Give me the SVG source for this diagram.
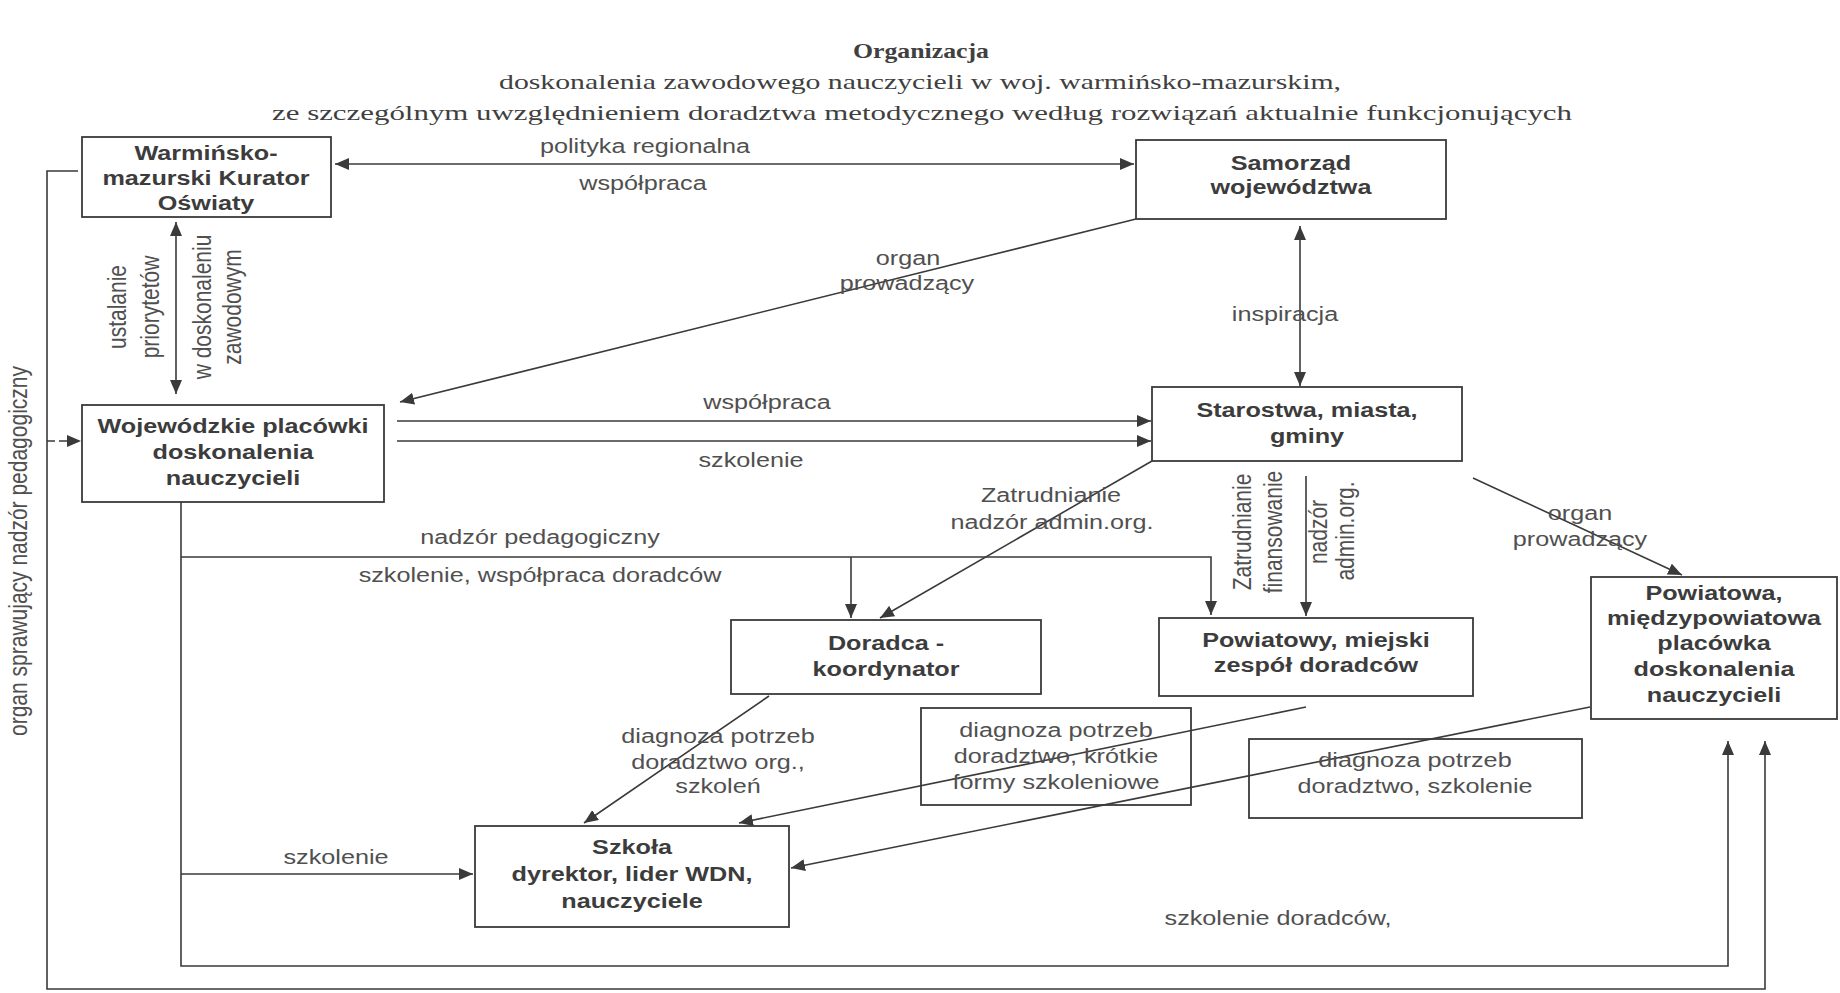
<svg xmlns="http://www.w3.org/2000/svg" width="1840" height="993" viewBox="0 0 1840 993">
<style>
.bg{fill:#ffffff}
.box{fill:#ffffff;stroke:#3a3a3a;stroke-width:1.8}
.ln{fill:none;stroke:#3a3a3a;stroke-width:1.6}
.arr{marker-end:url(#ah)}
.arr2{marker-start:url(#ah);marker-end:url(#ah)}
.nt{font-family:"Liberation Sans",Arial,sans-serif;font-size:21px;font-weight:bold;fill:#3c3c3c;text-anchor:middle}
.lb{font-family:"Liberation Sans",Arial,sans-serif;font-size:21px;fill:#505050;text-anchor:middle}
.tt{font-family:"Liberation Serif","Times New Roman",serif;font-size:22px;fill:#404040;text-anchor:middle}
</style>
<defs>
<marker id="ah" markerUnits="userSpaceOnUse" markerWidth="16" markerHeight="12" refX="14" refY="6" orient="auto-start-reverse" viewBox="0 0 16 12">
<path d="M0,0 L14,6 L0,12 z" fill="#3a3a3a"/>
</marker>
</defs>
<rect class="bg" x="0" y="0" width="1840" height="993"/>

<g id="title">
<text class="tt" x="921" y="58" textLength="136" lengthAdjust="spacingAndGlyphs" font-weight="bold">Organizacja</text>
<text class="tt" x="920" y="89" textLength="842" lengthAdjust="spacingAndGlyphs">doskonalenia zawodowego nauczycieli w woj. warmińsko-mazurskim,</text>
<text class="tt" x="922" y="120" textLength="1300" lengthAdjust="spacingAndGlyphs">ze szczególnym uwzględnieniem doradztwa metodycznego według rozwiązań aktualnie funkcjonujących</text>
</g>

<g id="connectors">
<!-- Kurator <-> Samorzad -->
<line class="ln arr2" x1="335" y1="164" x2="1134" y2="164"/>
<text class="lb" transform="translate(645,153) scale(1.2,1)">polityka regionalna</text>
<text class="lb" transform="translate(643,190) scale(1.2,1)">współpraca</text>
<!-- Kurator <-> Wojewodzkie -->
<line class="ln arr2" x1="176" y1="222" x2="176" y2="394"/>
<text class="lb" transform="translate(126,307) scale(1.2,1) rotate(-90)">ustalanie</text>
<text class="lb" transform="translate(159,307) scale(1.2,1) rotate(-90)">priorytetów</text>
<text class="lb" transform="translate(211,307) scale(1.2,1) rotate(-90)">w doskonaleniu</text>
<text class="lb" transform="translate(241,307) scale(1.2,1) rotate(-90)">zawodowym</text>
<!-- organ sprawujacy nadzor -->
<polyline class="ln arr" points="78,171 47,171 47,989 1765,989 1765,741"/>
<line class="ln arr" x1="47" y1="441" x2="81" y2="441" stroke-dasharray="8,4"/>
<text class="lb" transform="translate(27,551) scale(1.2,1) rotate(-90)">organ sprawujący nadzór pedagogiczny</text>
<!-- Samorzad -> Wojewodzkie -->
<line class="ln arr" x1="1136" y1="219" x2="400" y2="402"/>
<text class="lb" transform="translate(908,265) scale(1.2,1)">organ</text>
<text class="lb" transform="translate(907,290) scale(1.2,1)">prowadzący</text>
<!-- Samorzad <-> Starostwa -->
<line class="ln arr2" x1="1300" y1="226" x2="1300" y2="386"/>
<text class="lb" transform="translate(1285,321) scale(1.2,1)">inspiracja</text>
<!-- Wojewodzkie -> Starostwa -->
<line class="ln arr" x1="397" y1="421" x2="1151" y2="421"/>
<line class="ln arr" x1="397" y1="441" x2="1151" y2="441"/>
<text class="lb" transform="translate(767,409) scale(1.2,1)">współpraca</text>
<text class="lb" transform="translate(751,467) scale(1.2,1)">szkolenie</text>
<!-- Wojewodzkie lower line -> Powiatowa -->
<polyline class="ln arr" points="181,502 181,966 1728,966 1728,741"/>
<text class="lb" transform="translate(1278,925) scale(1.2,1)">szkolenie doradców,</text>
<!-- nadzor pedagogiczny -->
<polyline class="ln arr" points="181,557 1211,557 1211,615"/>
<line class="ln arr" x1="851" y1="557" x2="851" y2="618"/>
<text class="lb" transform="translate(540,544) scale(1.2,1)">nadzór pedagogiczny</text>
<text class="lb" transform="translate(540,582) scale(1.2,1)">szkolenie, współpraca doradców</text>
<!-- szkolenie -> Szkola -->
<line class="ln arr" x1="181" y1="874" x2="473" y2="874"/>
<text class="lb" transform="translate(336,864) scale(1.2,1)">szkolenie</text>
<!-- Starostwa -> Doradca -->
<line class="ln arr" x1="1152" y1="461" x2="880" y2="618"/>
<text class="lb" transform="translate(1051,502) scale(1.2,1)">Zatrudnianie</text>
<text class="lb" transform="translate(1052,529) scale(1.2,1)">nadzór admin.org.</text>
<!-- Starostwa -> Powiatowy -->
<line class="ln arr" x1="1306" y1="476" x2="1306" y2="616"/>
<text class="lb" transform="translate(1251,532) scale(1.2,1) rotate(-90)">Zatrudnianie</text>
<text class="lb" transform="translate(1282,532) scale(1.2,1) rotate(-90)">finansowanie</text>
<text class="lb" transform="translate(1327,532) scale(1.2,1) rotate(-90)">nadzór</text>
<text class="lb" transform="translate(1354,531) scale(1.2,1) rotate(-90)">admin.org.</text>
<!-- Starostwa -> Powiatowa -->
<line class="ln arr" x1="1473" y1="478" x2="1682" y2="575"/>
<text class="lb" transform="translate(1580,520) scale(1.2,1)">organ</text>
<text class="lb" transform="translate(1580,546) scale(1.2,1)">prowadzący</text>
<!-- Doradca -> Szkola -->
<line class="ln arr" x1="769" y1="696" x2="584" y2="823"/>
<text class="lb" transform="translate(718,743) scale(1.2,1)">diagnoza potrzeb</text>
<text class="lb" transform="translate(718,769) scale(1.2,1)">doradztwo org.,</text>
<text class="lb" transform="translate(718,793) scale(1.2,1)">szkoleń</text>
<!-- Powiatowy -> Szkola -->
<line class="ln arr" x1="1306" y1="707" x2="739" y2="823"/>
<!-- Powiatowa -> Szkola -->
<line class="ln arr" x1="1590" y1="707" x2="791" y2="868"/>
</g>

<g id="kurator">
<rect class="box" x="82" y="137" width="249" height="80"/>
<text class="nt" transform="translate(206,160) scale(1.2,1)">Warmińsko-</text>
<text class="nt" transform="translate(206,185) scale(1.2,1)">mazurski Kurator</text>
<text class="nt" transform="translate(206,210) scale(1.2,1)">Oświaty</text>
</g>

<g id="samorzad">
<rect class="box" x="1136" y="140" width="310" height="79"/>
<text class="nt" transform="translate(1291,170) scale(1.2,1)">Samorząd</text>
<text class="nt" transform="translate(1291,194) scale(1.2,1)">województwa</text>
</g>

<g id="wojewodzkie">
<rect class="box" x="82" y="405" width="302" height="97"/>
<text class="nt" transform="translate(233,433) scale(1.2,1)">Wojewódzkie placówki</text>
<text class="nt" transform="translate(233,459) scale(1.2,1)">doskonalenia</text>
<text class="nt" transform="translate(233,485) scale(1.2,1)">nauczycieli</text>
</g>

<g id="starostwa">
<rect class="box" x="1152" y="387" width="310" height="74"/>
<text class="nt" transform="translate(1307,417) scale(1.2,1)">Starostwa, miasta,</text>
<text class="nt" transform="translate(1307,443) scale(1.2,1)">gminy</text>
</g>

<g id="doradca">
<rect class="box" x="731" y="620" width="310" height="74"/>
<text class="nt" transform="translate(886,650) scale(1.2,1)">Doradca -</text>
<text class="nt" transform="translate(886,676) scale(1.2,1)">koordynator</text>
</g>

<g id="powiatowy">
<rect class="box" x="1159" y="618" width="314" height="78"/>
<text class="nt" transform="translate(1316,647) scale(1.2,1)">Powiatowy, miejski</text>
<text class="nt" transform="translate(1316,672) scale(1.2,1)">zespół doradców</text>
</g>

<g id="powiatowa">
<rect class="box" x="1591" y="577" width="246" height="142"/>
<text class="nt" transform="translate(1714,600) scale(1.2,1)">Powiatowa,</text>
<text class="nt" transform="translate(1714,625) scale(1.2,1)">międzypowiatowa</text>
<text class="nt" transform="translate(1714,650) scale(1.2,1)">placówka</text>
<text class="nt" transform="translate(1714,676) scale(1.2,1)">doskonalenia</text>
<text class="nt" transform="translate(1714,702) scale(1.2,1)">nauczycieli</text>
</g>

<g id="szkola">
<rect class="box" x="475" y="826" width="314" height="101"/>
<text class="nt" transform="translate(632,854) scale(1.2,1)">Szkoła</text>
<text class="nt" transform="translate(632,881) scale(1.2,1)">dyrektor, lider WDN,</text>
<text class="nt" transform="translate(632,908) scale(1.2,1)">nauczyciele</text>
</g>

<g id="diagnoza1">
<rect class="box" x="921" y="708" width="270" height="97" fill="none" style="fill:none"/>
<text class="lb" transform="translate(1056,737) scale(1.2,1)">diagnoza potrzeb</text>
<text class="lb" transform="translate(1056,763) scale(1.2,1)">doradztwo, krótkie</text>
<text class="lb" transform="translate(1056,789) scale(1.2,1)">formy szkoleniowe</text>
</g>

<g id="diagnoza2">
<rect class="box" x="1249" y="739" width="333" height="79" style="fill:none"/>
<text class="lb" transform="translate(1415,767) scale(1.2,1)">diagnoza potrzeb</text>
<text class="lb" transform="translate(1415,793) scale(1.2,1)">doradztwo, szkolenie</text>
</g>
</svg>
